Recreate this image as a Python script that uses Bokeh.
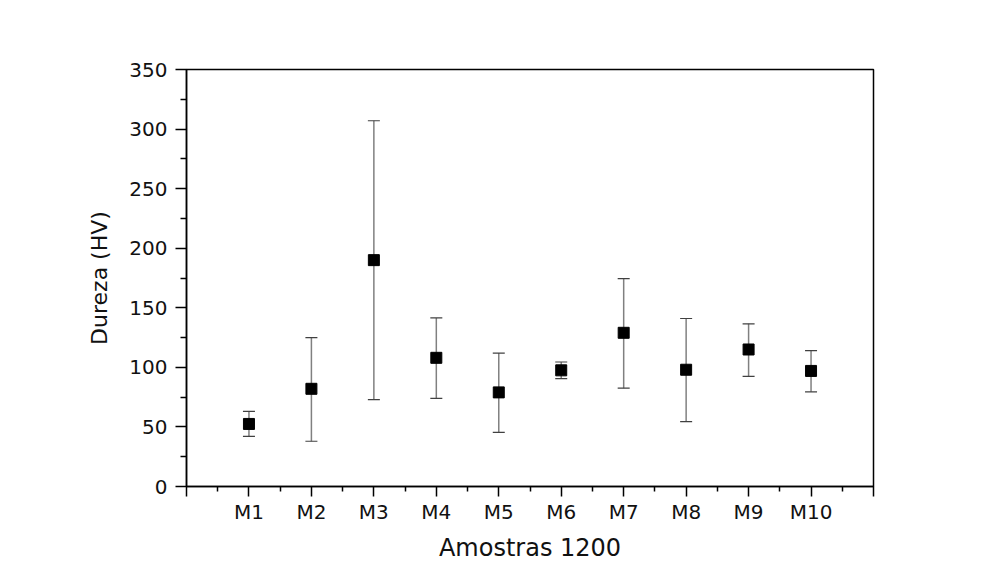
from bokeh.plotting import figure
from bokeh.models import ColumnDataSource, Whisker, TeeHead, FixedTicker, Range1d
from bokeh.embed import file_html
from bokeh.resources import INLINE

samples = ["M1", "M2", "M3", "M4", "M5", "M6", "M7", "M8", "M9", "M10"]
positions = [1, 2, 3, 4, 5, 6, 7, 8, 9, 10]
means = [52.5, 82, 190, 108, 79, 97.5, 129, 98, 115, 97]
lower = [42, 38, 73, 74, 45.5, 90.5, 82.5, 54.5, 92.5, 79.5]
upper = [63, 125, 307, 141.5, 112, 104.5, 174.5, 141, 136.5, 114]
y_ticks = [0, 50, 100, 150, 200, 250, 300, 350]

src = ColumnDataSource(dict(x=positions, y=means, lo=lower, hi=upper, name=samples))

p = figure(width=984, height=564, output_backend="svg", toolbar_location=None,
           x_range=Range1d(0, 11), y_range=Range1d(0, 350),
           min_border_left=186, min_border_right=111, min_border_top=69, min_border_bottom=77)
p.grid.visible = False
p.background_fill_color = "white"
p.border_fill_color = "white"
p.outline_line_color = "black"
p.outline_line_width = 1.5

w = Whisker(base="x", lower="lo", upper="hi", source=src,
            line_color="#808080", line_width=1.5,
            upper_head=TeeHead(size=12, line_color="#404040", line_width=1.2),
            lower_head=TeeHead(size=12, line_color="#404040", line_width=1.2))
p.add_layout(w)
p.scatter("x", "y", source=src, marker="square", size=11, fill_color="black", line_color="black")

p.xaxis.ticker = FixedTicker(ticks=list(range(0, 12)), minor_ticks=[i + 0.5 for i in range(11)])
overrides = {0: "", 11: ""}
for pos, s in zip(positions, samples):
    overrides[pos] = s
p.xaxis.major_label_overrides = overrides
p.yaxis.ticker = FixedTicker(ticks=y_ticks, minor_ticks=list(range(25, 350, 50)))

for ax in (p.xaxis[0], p.yaxis[0]):
    ax.axis_line_color = "black"
    ax.axis_line_width = 1.5
    ax.major_tick_line_color = "black"
    ax.major_tick_line_width = 1.5
    ax.minor_tick_line_color = "black"
    ax.minor_tick_line_width = 1.5
    ax.major_tick_in = 0
    ax.minor_tick_in = 0
    ax.major_label_text_font = "DejaVu Sans"
    ax.major_label_text_font_size = "20px"
    ax.major_label_text_color = "#111111"
    ax.axis_label_text_font = "DejaVu Sans"
    ax.axis_label_text_font_style = "normal"
    ax.axis_label_text_color = "#111111"

p.xaxis.axis_label_text_font_size = "24px"
p.yaxis.axis_label_text_font_size = "22px"
p.xaxis.major_tick_out = 10
p.xaxis.minor_tick_out = 5
p.yaxis.major_tick_out = 11
p.yaxis.minor_tick_out = 6
p.xaxis.major_label_standoff = 3
p.yaxis.major_label_standoff = 8
p.xaxis.axis_label_standoff = 7
p.yaxis.axis_label_standoff = 14
p.xaxis.axis_label = "Amostras 1200"
p.yaxis.axis_label = "Dureza (HV)"

open("out.html", "w").write(file_html(p, INLINE))
